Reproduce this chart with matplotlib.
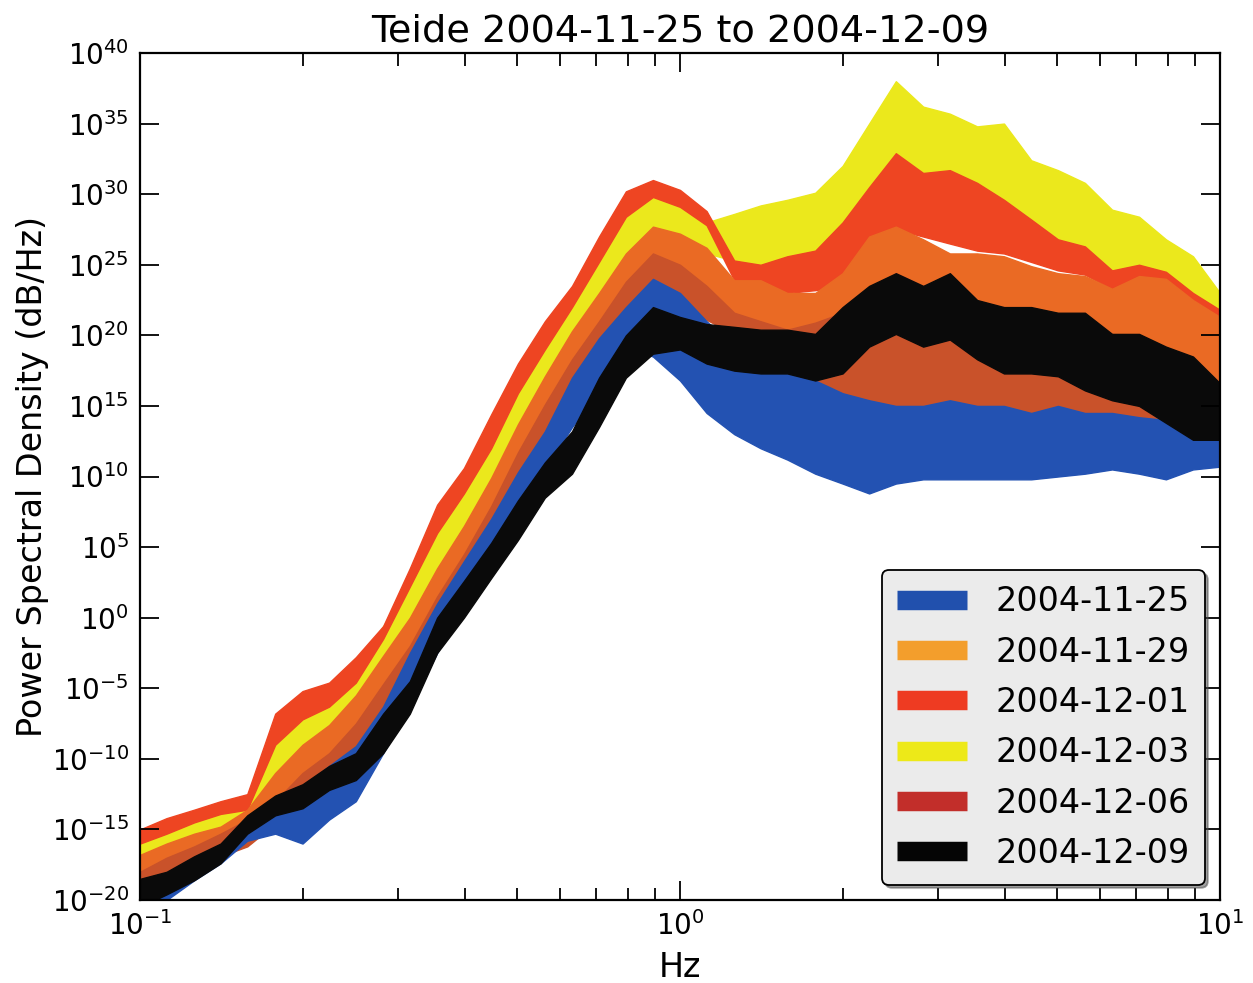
import numpy as np
import matplotlib
matplotlib.use("Agg")
import matplotlib.pyplot as plt
from matplotlib.lines import Line2D
from matplotlib.ticker import LogLocator, LogFormatterSciNotation, NullLocator, NullFormatter, FixedLocator

plt.rcParams['axes.unicode_minus'] = False

# ---------- data (log10 of PSD) ----------
FREQ_HZ = [0.1, 0.112, 0.126, 0.141, 0.158, 0.178, 0.2, 0.224, 0.251, 0.282,
           0.316, 0.355, 0.398, 0.447, 0.501, 0.562, 0.631, 0.708, 0.794, 0.891,
           1.0, 1.12, 1.26, 1.41, 1.58, 1.78, 2.0, 2.24, 2.51, 2.82,
           3.16, 3.55, 3.98, 4.47, 5.01, 5.62, 6.31, 7.08, 7.94, 8.91, 10.0]

DATES = ['2004-11-25', '2004-11-29', '2004-12-01', '2004-12-03', '2004-12-06', '2004-12-09']

# upper / lower edge of each noisy trace
TOP_1125 = [-18.8, -18.5, -17.2, -16.2, -14.5, -13.0, -12.0, -10.5, -9.1, -6.3,
            -2.5, 1.0, 4.0, 7.0, 10.3, 13.2, 17.0, 19.8, 22.0, 24.0,
            23.0, 21.0, 19.2, 18.5, 17.3, 16.8, 15.9, 15.4, 15.0, 15.0,
            15.4, 15.0, 15.0, 14.5, 15.0, 14.5, 14.5, 14.2, 14.0, 13.8, 13.8]
LOW_1125 = [-20.5, -20.0, -18.6, -17.4, -15.8, -15.3, -16.0, -14.3, -13.0, -9.6,
            -6.3, -2.5, 1.0, 4.2, 7.5, 10.5, 13.5, 16.0, 19.2, 18.5,
            16.8, 14.5, 13.0, 12.0, 11.2, 10.2, 9.5, 8.8, 9.5, 9.8,
            9.8, 9.8, 9.8, 9.8, 10.0, 10.2, 10.5, 10.2, 9.8, 10.5, 10.7]

TOP_1129 = [-16.8, -16.0, -15.3, -14.8, -13.6, -11.0, -9.0, -7.6, -5.5, -2.7,
            0.0, 3.5, 6.5, 9.9, 13.7, 17.1, 20.3, 23.0, 25.8, 27.7,
            27.2, 26.2, 23.9, 23.9, 23.0, 23.0, 24.4, 27.0, 27.7, 26.8,
            25.8, 25.8, 25.6, 24.9, 24.4, 24.2, 23.3, 24.2, 24.0, 22.5, 21.3]
LOW_1129 = [-19.0, -17.6, -16.9, -16.2, -15.7, -13.6, -12.5, -11.5, -9.6, -6.8,
            -3.5, 0.0, 3.0, 6.0, 9.5, 13.0, 16.5, 19.0, 22.0, 25.0,
            24.5, 23.0, 21.6, 21.0, 20.4, 20.9, 21.6, 23.0, 24.4, 23.5,
            23.9, 22.0, 22.0, 21.6, 21.1, 20.6, 20.1, 19.7, 18.7, 17.8, 16.6]

TOP_1201 = [-15.0, -14.2, -13.6, -13.0, -12.5, -6.8, -5.2, -4.6, -2.8, -0.6,
            3.5, 8.0, 10.6, 14.4, 18.0, 21.0, 23.5, 27.0, 30.2, 31.0,
            30.3, 28.8, 25.3, 25.0, 25.6, 26.0, 28.0, 30.5, 32.9, 31.5,
            31.7, 30.8, 29.6, 28.2, 26.8, 26.3, 24.6, 25.0, 24.5, 23.0, 21.8]
LOW_1201 = [-16.0, -15.3, -14.5, -13.9, -13.6, -9.0, -7.2, -6.3, -4.6, -1.5,
            2.2, 6.0, 8.8, 12.0, 15.9, 19.0, 22.0, 25.2, 28.4, 29.8,
            29.1, 27.8, 23.9, 23.9, 23.0, 23.2, 23.5, 26.5, 27.5, 27.0,
            26.5, 26.0, 25.8, 25.2, 24.6, 24.3, 23.3, 24.2, 24.0, 22.5, 21.3]

TOP_1203 = [-15.8, -15.0, -14.2, -13.5, -12.8, -9.0, -7.2, -6.0, -3.6, -0.6,
            2.2, 6.0, 8.8, 12.0, 15.9, 19.0, 22.0, 25.2, 28.4, 29.8,
            29.1, 28.0, 28.6, 29.2, 29.6, 30.1, 32.0, 35.0, 38.0, 36.2,
            35.7, 34.8, 35.0, 32.4, 31.7, 30.8, 28.9, 28.4, 26.8, 25.6, 23.0]
LOW_1203 = [-17.5, -16.7, -16.0, -15.3, -14.3, -11.5, -10.0, -8.7, -7.0, -3.9,
            -0.6, 3.2, 6.0, 9.2, 12.5, 16.0, 19.2, 22.0, 25.8, 27.6,
            27.2, 25.8, 25.3, 24.9, 25.6, 25.5, 27.5, 30.0, 32.5, 31.0,
            31.2, 30.3, 29.3, 27.8, 26.5, 26.0, 24.3, 24.3, 24.0, 22.5, 21.3]

TOP_1206 = [-18.0, -17.0, -16.2, -15.3, -14.3, -13.0, -11.0, -9.6, -7.5, -4.7,
            -2.0, 1.5, 4.5, 7.9, 11.7, 15.1, 18.3, 21.0, 23.8, 25.8,
            25.0, 23.5, 21.6, 21.0, 20.4, 20.9, 21.6, 23.0, 24.4, 23.5,
            23.9, 22.0, 22.0, 21.6, 21.1, 20.6, 20.1, 19.7, 18.7, 17.8, 16.6]
LOW_1206 = [-20.0, -18.8, -17.9, -16.9, -16.2, -14.6, -14.0, -12.6, -10.5, -8.2,
            -5.0, -1.5, 1.5, 4.5, 8.0, 11.0, 14.0, 17.0, 20.5, 23.5,
            22.5, 21.1, 20.1, 19.7, 19.0, 16.5, 15.7, 15.4, 15.0, 15.0,
            15.4, 15.0, 13.8, 14.0, 13.8, 13.1, 13.3, 13.1, 12.6, 12.5, 12.5]

TOP_1209 = [-18.5, -18.0, -16.9, -16.0, -14.0, -12.6, -11.8, -10.5, -9.6, -6.8,
            -4.5, 0.0, 2.6, 5.3, 8.3, 11.0, 13.2, 17.0, 20.0, 22.0,
            21.3, 20.8, 20.6, 20.4, 20.4, 20.1, 22.0, 23.5, 24.4, 23.5,
            24.4, 22.5, 22.0, 22.0, 21.6, 21.6, 20.1, 20.1, 19.2, 18.5, 16.6]
LOW_1209 = [-20.5, -19.6, -18.6, -17.4, -15.3, -14.0, -13.5, -12.2, -11.5, -9.6,
            -6.8, -2.5, 0.0, 2.8, 5.5, 8.5, 10.2, 13.5, 17.0, 18.7,
            19.0, 18.0, 17.5, 17.3, 17.3, 16.8, 17.3, 19.2, 20.1, 19.2,
            19.7, 18.3, 17.3, 17.3, 17.1, 16.1, 15.4, 15.0, 13.8, 12.6, 12.6]

# ---------- style ----------
TRACE_COLORS = ['#2352b2', '#ea6a24', '#ee4522', '#ebe81c', '#c9522a', '#0a0a0a']
LEGEND_COLORS = ['#2150ad', '#f39e2c', '#ee3b22', '#ede918', '#c22e2a', '#050505']

series = [
    (TOP_1125, LOW_1125), (TOP_1129, LOW_1129), (TOP_1201, LOW_1201),
    (TOP_1203, LOW_1203), (TOP_1206, LOW_1206), (TOP_1209, LOW_1209),
]
DRAW_ORDER = [3, 2, 1, 4, 0, 5]   # yellow, red, orange, dark red, blue, black

fig = plt.figure(figsize=(12.53, 9.83), dpi=100)
ax = fig.add_axes([0.1117, 0.0844, 0.862, 0.8617])

freq = np.array(FREQ_HZ)
for k in DRAW_ORDER:
    top, low = series[k]
    c = TRACE_COLORS[k]
    ax.fill_between(freq, 10.0 ** np.array(low), 10.0 ** np.array(top),
                    facecolor=c, edgecolor=c, linewidth=1.0)

ax.set_xscale('log')
ax.set_yscale('log')
ax.set_xlim(0.1, 10)
ax.set_ylim(1e-20, 1e40)

ax.yaxis.set_major_locator(FixedLocator(10.0 ** np.arange(-20, 41, 5)))
ax.yaxis.set_major_formatter(LogFormatterSciNotation())
ax.yaxis.set_minor_locator(NullLocator())
ax.xaxis.set_major_locator(LogLocator(base=10))
ax.xaxis.set_minor_locator(LogLocator(base=10, subs=np.arange(2, 10)))
ax.xaxis.set_minor_formatter(NullFormatter())

ax.tick_params(which='both', direction='in', top=True, right=True,
               labelsize=20, width=1.3, colors='black')
ax.tick_params(which='major', length=14, pad=8)
ax.tick_params(which='minor', length=9)
for sp in ax.spines.values():
    sp.set_linewidth(1.6)

ax.set_title('Teide 2004-11-25 to 2004-12-09', fontsize=27.5, pad=8)
ax.set_xlabel('Hz', fontsize=24, labelpad=7)
ax.set_ylabel('Power Spectral Density (dB/Hz)', fontsize=24, labelpad=2)

handles = [Line2D([], [], color=c, lw=14, solid_capstyle='butt') for c in LEGEND_COLORS]
leg = ax.legend(handles, DATES, loc='lower right', fontsize=24, handlelength=2.1,
                labelspacing=0.52, handletextpad=0.85, borderaxespad=0.45,
                borderpad=0.45, fancybox=True, shadow=True, framealpha=1.0,
                facecolor='#ebebeb', edgecolor='black')
leg.get_frame().set_linewidth(1.3)

fig.savefig('out.png', dpi=100)
